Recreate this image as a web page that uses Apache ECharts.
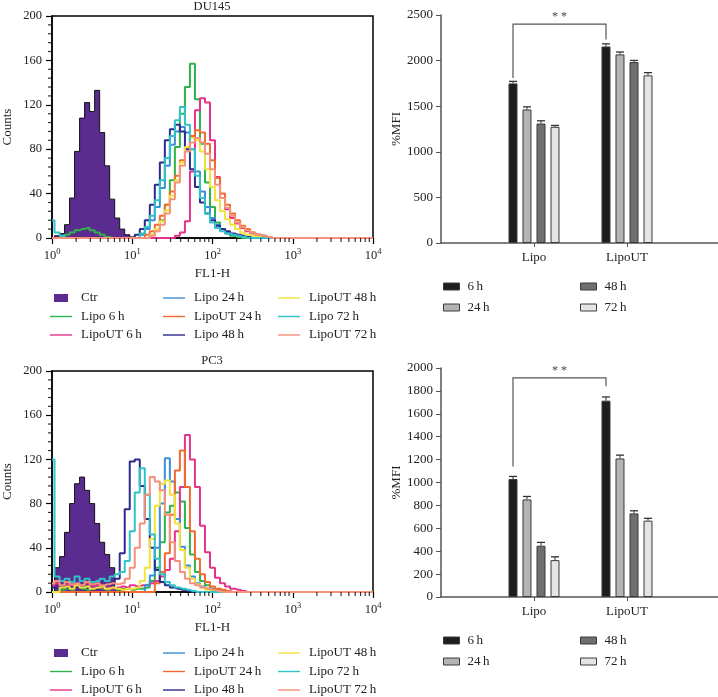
<!DOCTYPE html>
<html>
<head>
<meta charset="utf-8">
<script src="https://cdn.jsdelivr.net/npm/echarts@6/dist/echarts.min.js"></script>
<style>
  html, body { margin: 0; padding: 0; background: #fff; }
  #chart { width: 718px; height: 697px; }
</style>
</head>
<body>
<div id="chart"></div>
<script>
const FONT = '"Liberation Serif", "DejaVu Serif", serif'
const SP = '\u2009'
const z = n => Array(n).fill(0)

// histogram channels: 16 bins per decade
const mantissas = [1, 1.155, 1.334, 1.540, 1.778, 2.054, 2.371, 2.738, 3.162, 3.652, 4.217, 4.870, 5.623, 6.494, 7.499, 8.660]
const decades = [1, 10, 100, 1000]
const bins = decades.flatMap(d => mantissas.map(m => Math.round(m * d * 1000) / 1000)).concat([10000])

const histNames = ['Ctr', 'Lipo 6' + SP + 'h', 'LipoUT 6' + SP + 'h', 'Lipo 24' + SP + 'h', 'LipoUT 24' + SP + 'h',
  'Lipo 48' + SP + 'h', 'LipoUT 48' + SP + 'h', 'Lipo 72' + SP + 'h', 'LipoUT 72' + SP + 'h']
const histColors = ['#5b2c90', '#2db34a', '#e5338c', '#3b8fd6', '#f26b2e', '#2c2a8c', '#f2e23c', '#2fc2c6', '#f4907c']

// DU145 counts per bin
const du145Ctr = [0, 2, 4, 12, 36, 78, 108, 122, 114, 133, 95, 65, 35, 18, 8, 3, 1]
const du145Lipo6 = [0, 0, 1, 3, 5, 7, 8, 9, 7, 5, 3, 1, ...z(8), 3, 8, 16, 30, 52, 82, 112, 136, 157, 125, 85, 50, 28, 14, 8, 4, 2, 1]
const du145LipoUT6 = [...z(25), 2, 5, 15, 60, 115, 126, 122, 88, 55, 36, 26, 18, 13, 9, 6, 4, 3, 2, 1]
const du145Lipo24 = [...z(18), 3, 8, 16, 28, 45, 65, 84, 96, 100, 95, 80, 60, 42, 28, 18, 12, 8, 5, 3, 2, 1]
const du145LipoUT24 = [...z(19), 3, 6, 12, 20, 30, 42, 56, 70, 82, 92, 97, 95, 85, 70, 54, 40, 30, 22, 16, 11, 8, 5, 3, 2, 1]
const du145Lipo48 = [...z(17), 3, 8, 16, 30, 48, 68, 88, 98, 102, 96, 80, 62, 46, 32, 22, 16, 11, 8, 6, 4, 3, 2, 1]
const du145LipoUT48 = [...z(20), 3, 8, 15, 25, 38, 52, 68, 82, 90, 88, 78, 62, 46, 34, 24, 17, 12, 8, 5, 3, 2, 1]
const du145Lipo72 = [16, 5, 2, ...z(15), 4, 10, 20, 34, 52, 72, 92, 106, 118, 102, 80, 56, 36, 22, 14, 9, 6, 4, 3, 2, 1]
const du145LipoUT72 = [...z(20), 2, 6, 12, 22, 35, 50, 65, 78, 86, 90, 86, 76, 62, 48, 36, 27, 20, 14, 10, 7, 5, 3, 2, 1]

// PC3 counts per bin
const pc3Ctr = [0, 22, 32, 54, 80, 98, 104, 92, 80, 62, 45, 34, 22, 3, 1]
const pc3Lipo6 = [0, 0, 2, 3, 2, 4, 3, 2, 3, 4, 3, 2, 3, 2, 3, 3, 2, 3, 3, 4, 10, 22, 45, 72, 78, 90, 82, 58, 34, 18, 10, 6, 3, 2, 1]
const pc3LipoUT6 = [6, 8, 5, 7, 6, 4, 6, 8, 5, 6, 4, 5, 3, 4, 5, 4, 6, 5, 6, 6, 8, 10, 14, 20, 30, 55, 95, 142, 120, 95, 60, 36, 22, 13, 8, 5, 3, 2, 1]
const pc3Lipo24 = [...z(19), 6, 15, 40, 80, 121, 100, 66, 41, 24, 14, 8, 5, 3, 2, 1]
const pc3LipoUT24 = [...z(21), 8, 18, 35, 70, 110, 128, 95, 55, 30, 16, 9, 5, 3, 2, 1]
const pc3Lipo48 = [4, 3, 5, 4, 3, 4, 5, 4, 3, 4, 5, 6, 8, 12, 35, 75, 118, 120, 96, 66, 40, 20, 9, 6, 4, 3, 2, 1]
const pc3LipoUT48 = [0, 0, 4, 5, 3, 6, 4, 5, 3, 4, 5, 3, 4, 3, 2, 3, 3, 4, 10, 22, 48, 78, 98, 101, 88, 62, 38, 22, 12, 7, 4, 2, 1]
const pc3Lipo72 = [120, 14, 10, 12, 9, 14, 10, 12, 9, 10, 12, 10, 14, 16, 18, 28, 55, 90, 112, 88, 52, 30, 16, 9, 6, 4, 3, 2, 1]
const pc3LipoUT72 = [8, 10, 6, 9, 7, 8, 6, 9, 7, 8, 6, 7, 8, 7, 8, 12, 22, 40, 62, 88, 104, 100, 92, 70, 45, 28, 18, 12, 8, 6, 4, 3, 2, 1]

const du145Hist = [du145Ctr, du145Lipo6, du145LipoUT6, du145Lipo24, du145LipoUT24, du145Lipo48, du145LipoUT48, du145Lipo72, du145LipoUT72]
const pc3Hist = [pc3Ctr, pc3Lipo6, pc3LipoUT6, pc3Lipo24, pc3LipoUT24, pc3Lipo48, pc3LipoUT48, pc3Lipo72, pc3LipoUT72]

// minor ticks of the histogram axes
const minorMantissas = [2, 3, 4, 5, 6, 7, 8, 9]
const xMinorTicks = decades.flatMap(d => minorMantissas.map(m => m * d))
const yMinorTicks = [8, 16, 24, 32, 48, 56, 64, 72, 88, 96, 104, 112, 128, 136, 144, 152, 168, 176, 184, 192]

// bar charts (%MFI), rows = time points, columns = [Lipo, LipoUT]
const barCategories = [' ', 'Lipo', 'LipoUT', '  ']
const barGroupIdx = [1, 2]
const timeNames = ['6' + SP + 'h', '24' + SP + 'h', '48' + SP + 'h', '72' + SP + 'h']
const barColors = ['#1d1d1d', '#b4b4b4', '#6f6f6f', '#e4e4e4']
const du145Mfi = [[1750, 2155], [1464, 2068], [1310, 1984], [1274, 1838]]
const du145Err = [[22, 29], [29, 26], [30, 18], [15, 30]]
const pc3Mfi = [[1030, 1715], [852, 1210], [448, 730], [322, 667]]
const pc3Err = [[23, 32], [26, 29], [29, 23], [29, 20]]
// significance bracket: [from group, to group, top, left end, right end]
const du145Sig = [1, 2, 2400, 1810, 2230]
const pc3Sig = [1, 2, 1913, 1140, 1840]

const BAR_W = 9
const BAR_GAP = 5

const LINE_ICON = 'path://M0,0M26,14M0,6.3H22V7.7H0Z'
const CTR_ICON = 'path://M0,0M26,14M4,3H18V11H4Z'
const BAR_ICON = 'path://M0,0M19,10M0,1.5H16V8.5H0Z'

const txt = { fontFamily: FONT, color: '#222' }

function histGrid(top, height) {
  return { left: 52, top, width: 321, height, show: true, borderColor: '#000', borderWidth: 1.5,
    backgroundColor: 'transparent', containLabel: false, outerBoundsMode: 'none' }
}

function logAxis(gridIndex) {
  return {
    type: 'log', gridIndex, logBase: 10, min: 1, max: 10000,
    axisLine: { show: true, lineStyle: { color: '#000', width: 1.5 } },
    axisTick: { show: true, length: 6, lineStyle: { color: '#000', width: 1.2 } },
    splitLine: { show: false },
    axisLabel: {
      margin: 9,
      formatter: v => '{b|10}{e|' + Math.round(Math.log10(v)) + '}',
      rich: {
        b: { ...txt, fontSize: 12.5, lineHeight: 15, verticalAlign: 'bottom' },
        e: { ...txt, fontSize: 8.5, lineHeight: 15, verticalAlign: 'top' }
      }
    },
    name: 'FL1-H', nameLocation: 'middle', nameGap: 29, nameMoveOverlap: false,
    nameTextStyle: { ...txt, fontSize: 13 }
  }
}

function countAxis(gridIndex) {
  return {
    type: 'value', gridIndex, min: 0, max: 200, interval: 40,
    axisLine: { show: true, lineStyle: { color: '#000', width: 1.5 } },
    axisTick: { show: true, length: 6, lineStyle: { color: '#000', width: 1.2 } },
    splitLine: { show: false },
    axisLabel: { ...txt, fontSize: 12.5, margin: 10 },
    name: 'Counts', nameLocation: 'middle', nameGap: 38, nameMoveOverlap: false,
    nameTextStyle: { ...txt, fontSize: 13 }
  }
}

function barXAxis(gridIndex) {
  return {
    type: 'category', gridIndex, data: barCategories, boundaryGap: false,
    axisLine: { show: true, lineStyle: { color: '#555', width: 1.5 } },
    axisTick: { show: true, length: 4, interval: i => i === 1 || i === 2, lineStyle: { color: '#555' } },
    axisLabel: { ...txt, fontSize: 13, margin: 8, interval: 0 },
    splitLine: { show: false }
  }
}

function barYAxis(gridIndex, max, interval) {
  return {
    type: 'value', gridIndex, min: 0, max, interval,
    axisLine: { show: true, lineStyle: { color: '#555', width: 1.5 } },
    axisTick: { show: true, length: 5, lineStyle: { color: '#555' } },
    splitLine: { show: false },
    axisLabel: { ...txt, fontSize: 13, margin: 8, formatter: v => String(v) },
    name: '%MFI', nameLocation: 'middle', nameGap: 38, nameMoveOverlap: false,
    nameTextStyle: { ...txt, fontSize: 13 }
  }
}

function histSeries(list, axisIndex) {
  return list.map((counts, i) => ({
    name: histNames[i], type: 'line', step: 'middle', symbol: 'none',
    xAxisIndex: axisIndex, yAxisIndex: axisIndex,
    color: histColors[i],
    data: bins.map((b, k) => [b, counts[k] || 0]),
    lineStyle: { width: i === 0 ? 1 : 2, color: i === 0 ? '#111' : histColors[i] },
    areaStyle: i === 0 ? { color: histColors[0], opacity: 1 } : null,
    z: 2, silent: true
  }))
}

// short outward minor ticks, drawn as thin rect symbols sitting on the axes
function minorTickSeries(axisIndex) {
  return [
    { name: 'x minor', type: 'scatter', xAxisIndex: axisIndex, yAxisIndex: axisIndex, silent: true, clip: false,
      symbol: 'rect', symbolSize: [1.2, 4], symbolOffset: [0, 2], itemStyle: { color: '#000' }, z: 8,
      data: xMinorTicks.map(v => [v, 0]) },
    { name: 'y minor', type: 'scatter', xAxisIndex: axisIndex, yAxisIndex: axisIndex, silent: true, clip: false,
      symbol: 'rect', symbolSize: [4, 1.2], symbolOffset: [-2, 0], itemStyle: { color: '#000' }, z: 8,
      data: yMinorTicks.map(v => [1, v]) }
  ]
}

function barSeries(values, axisIndex) {
  return values.map((row, j) => ({
    name: timeNames[j], type: 'bar', xAxisIndex: axisIndex, yAxisIndex: axisIndex,
    barWidth: BAR_W, barGap: (BAR_GAP / BAR_W * 100).toFixed(1) + '%',
    data: barGroupIdx.map((c, i) => [c, row[i]]),
    itemStyle: { color: barColors[j], borderColor: '#3a3a3a', borderWidth: 1 },
    silent: true
  }))
}

function errorSeries(values, errs, axisIndex) {
  const data = []
  values.forEach((row, j) => row.forEach((v, i) => data.push([barGroupIdx[i], j, v, errs[j][i]])))
  return {
    type: 'custom', xAxisIndex: axisIndex, yAxisIndex: axisIndex, silent: true, z: 5,
    encode: { x: 0, y: 2 }, data,
    renderItem(params, api) {
      const j = api.value(1)
      const base = api.coord([api.value(0), api.value(2)])
      const top = api.coord([api.value(0), api.value(2) + api.value(3)])
      const x = base[0] + (j - 1.5) * (BAR_W + BAR_GAP)
      const half = BAR_W / 2 - 0.5
      return { type: 'group', children: [
        { type: 'line', shape: { x1: x, y1: base[1], x2: x, y2: top[1] }, style: { stroke: '#333', lineWidth: 1 } },
        { type: 'line', shape: { x1: x - half, y1: top[1], x2: x + half, y2: top[1] }, style: { stroke: '#333', lineWidth: 1.3 } }
      ] }
    }
  }
}

function sigSeries(sig, axisIndex) {
  return {
    type: 'custom', xAxisIndex: axisIndex, yAxisIndex: axisIndex, silent: true, z: 6,
    encode: { x: 0, y: 2 }, data: [sig],
    renderItem(params, api) {
      const off = -1.5 * (BAR_W + BAR_GAP)
      const xL = api.coord([api.value(0), 0])[0] + off
      const xR = api.coord([api.value(1), 0])[0] + off
      const yT = api.coord([api.value(0), api.value(2)])[1]
      const yL = api.coord([api.value(0), api.value(3)])[1]
      const yR = api.coord([api.value(0), api.value(4)])[1]
      return { type: 'group', children: [
        { type: 'polyline', shape: { points: [[xL, yL], [xL, yT], [xR, yT], [xR, yR]] },
          style: { stroke: '#555', lineWidth: 1.2, fill: 'none' } },
        { type: 'text', x: (xL + xR) / 2, y: yT - 1,
          style: { text: '* *', align: 'center', verticalAlign: 'bottom', font: '12px ' + FONT, fill: '#444' } }
      ] }
    }
  }
}

function lineLegend(names, left, top) {
  return {
    orient: 'vertical', left, top, itemWidth: 26, itemHeight: 14, itemGap: 4.5, padding: 0,
    selectedMode: false,
    data: names.map(n => ({ name: n, icon: n === 'Ctr' ? CTR_ICON : LINE_ICON })),
    itemStyle: { borderWidth: 0 },
    textStyle: { ...txt, fontSize: 13 }
  }
}

function barLegend(names, left, top) {
  return {
    orient: 'vertical', left, top, itemWidth: 19, itemHeight: 10, itemGap: 8, padding: 0,
    selectedMode: false,
    data: names.map(n => ({ name: n, icon: BAR_ICON })),
    itemStyle: { borderWidth: 1, borderColor: '#3a3a3a' },
    textStyle: { ...txt, fontSize: 13 }
  }
}

const histCols = [histNames.slice(0, 3), histNames.slice(3, 6), histNames.slice(6, 9)]
const histColLeft = [50, 163, 278]

const option = {
  animation: false,
  textStyle: { fontFamily: FONT },
  grid: [
    histGrid(16, 222),
    histGrid(371, 221),
    { left: 441, top: 15, width: 279, height: 228, containLabel: false, outerBoundsMode: 'none' },
    { left: 441, top: 368, width: 279, height: 229, containLabel: false, outerBoundsMode: 'none' }
  ],
  xAxis: [logAxis(0), logAxis(1), barXAxis(2), barXAxis(3)],
  yAxis: [countAxis(0), countAxis(1), barYAxis(2, 2500, 500), barYAxis(3, 2000, 200)],
  legend: [
    ...histCols.map((c, i) => lineLegend(c, histColLeft[i], 291)),
    ...histCols.map((c, i) => lineLegend(c, histColLeft[i], 646)),
    barLegend(timeNames.slice(0, 2), 443, 280), barLegend(timeNames.slice(2), 580, 280),
    barLegend(timeNames.slice(0, 2), 443, 634), barLegend(timeNames.slice(2), 580, 634)
  ],
  graphic: [
    { type: 'text', x: 212, y: 0, style: { text: 'DU145', align: 'center', verticalAlign: 'top', font: '12.5px ' + FONT, fill: '#222' } },
    { type: 'text', x: 212, y: 354, style: { text: 'PC3', align: 'center', verticalAlign: 'top', font: '12.5px ' + FONT, fill: '#222' } }
  ],
  series: [
    ...histSeries(du145Hist, 0),
    ...histSeries(pc3Hist, 1),
    ...minorTickSeries(0),
    ...minorTickSeries(1),
    ...barSeries(du145Mfi, 2),
    ...barSeries(pc3Mfi, 3),
    errorSeries(du145Mfi, du145Err, 2),
    errorSeries(pc3Mfi, pc3Err, 3),
    sigSeries(du145Sig, 2),
    sigSeries(pc3Sig, 3)
  ]
}

const chart = echarts.init(document.getElementById('chart'), null, { renderer: 'canvas' })
chart.setOption(option)
</script>
</body>
</html>
